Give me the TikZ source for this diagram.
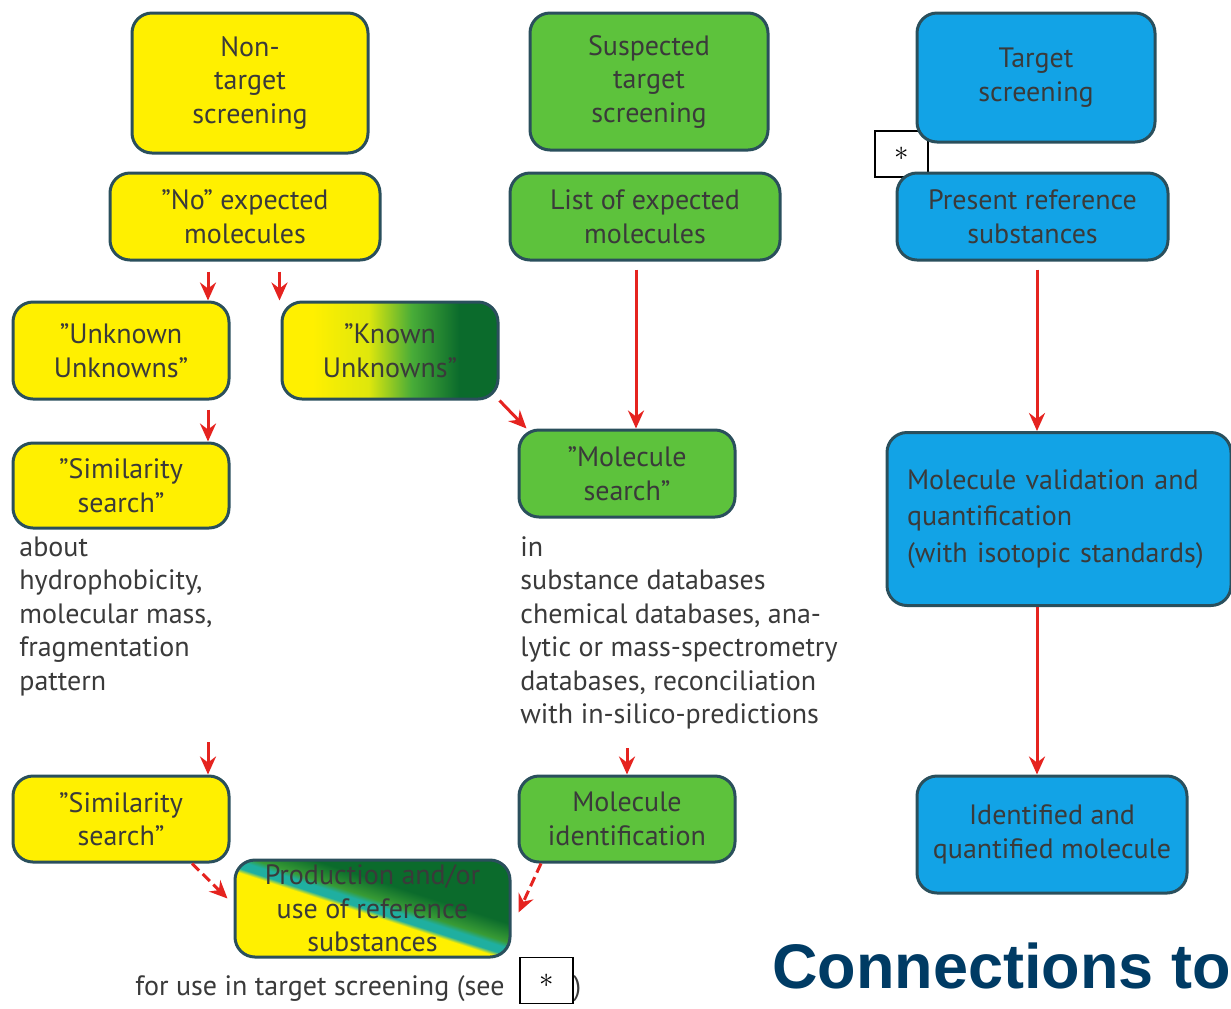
\documentclass[tikz,border=0pt]{standalone}
\usepackage{fontspec}
\setmainfont{PT Sans}
\newfontfamily\headfont{Liberation Sans}
\usetikzlibrary{arrows.meta}

\definecolor{ylw}{HTML}{FFF000}
\definecolor{grn}{HTML}{5DC23C}
\definecolor{blu}{HTML}{12A3E6}
\definecolor{dkgrn}{HTML}{0B6B2C}
\definecolor{tealband}{HTML}{1FAFA0}
\definecolor{edgecol}{HTML}{2A4F5C}
\definecolor{arrred}{HTML}{E5231F}
\definecolor{txt}{HTML}{3A3A3A}
\definecolor{headcol}{HTML}{003B64}

\pgfdeclarehorizontalshading{knownshade}{100bp}{color(0bp)=(ylw); color(32bp)=(ylw); color(45bp)=(ylw!80!grn); color(55bp)=(grn!75!dkgrn); color(66bp)=(dkgrn); color(100bp)=(dkgrn)}
\pgfdeclarehorizontalshading{prodshade}{100bp}{color(0bp)=(ylw); color(47.5bp)=(ylw); color(49bp)=(tealband); color(51.5bp)=(tealband); color(53.5bp)=(grn!55!dkgrn); color(60bp)=(dkgrn); color(100bp)=(dkgrn)}

\begin{document}
\begin{tikzpicture}[x=0.5pt, y=-0.5pt,
  font=\fontsize{14}{16.75}\selectfont,
  box/.style={draw=edgecol, line width=1.5pt, rounded corners=10pt, align=center, inner sep=0pt, text=txt},
  ybox/.style={box, fill=ylw},
  gbox/.style={box, fill=grn},
  bbox/.style={box, fill=blu},
  plain/.style={align=left, inner sep=0pt, text=txt},
  starbox/.style={draw=black, line width=0.8pt, fill=white, inner sep=0pt, minimum width=26.5pt, minimum height=23pt},
  arr/.style={draw=arrred, line width=1.5pt, -{Stealth[length=9pt, width=8pt, inset=3pt]}},
  dasharr/.style={arr, dash pattern=on 5pt off 2.5pt}]

  \useasboundingbox (0,0) rectangle (1231,1008);

  % star markers (drawn first, the boxes lie over them)
  \node[starbox] (star1) at (901.5,154) {$\ast$};

  % non-target column
  \node[ybox, minimum width=118pt, minimum height=70pt] (nontgt) at (250,83) {Non-\\target\\screening};
  \node[ybox, minimum width=135pt, minimum height=43.5pt] (noexp) at (245,216.5) {"No" expected\\molecules};
  \node[ybox, minimum width=108pt, minimum height=48.5pt] (unkunk) at (121,350.5) {"Unknown\\Unknowns"};
  \node[box, shading=knownshade, minimum width=108pt, minimum height=48.5pt] (knownunk) at (390,350.5) {"Known\\Unknowns"};
  \node[ybox, minimum width=108pt, minimum height=42.5pt] (simsearch) at (121,485.5) {"Similarity\\search"};
  \node[plain, anchor=north west] (about) at (19,536) {about\\hydrophobicity,\\molecular mass,\\fragmentation\\pattern};
  \node[ybox, minimum width=108pt, minimum height=43pt] (simsearchb) at (121,819) {"Similarity\\search"};

  % suspected target column
  \node[gbox, minimum width=119pt, minimum height=68.5pt] (suspect) at (649,81.5) {Suspected\\target\\screening};
  \node[gbox, minimum width=135pt, minimum height=43.5pt] (listexp) at (645,216.5) {List of expected\\molecules};
  \node[gbox, minimum width=108pt, minimum height=43.5pt] (molsearch) at (627,473.5) {"Molecule\\search"};
  \node[plain, anchor=north west] (indb) at (520,536) {in\\substance databases\\chemical databases, ana-\\lytic or mass-spectrometry\\databases, reconciliation\\with in-silico-predictions};
  \node[gbox, minimum width=108pt, minimum height=43pt] (molid) at (627,819) {Molecule\\identification};

  % reference substances
  \node[box, shading=prodshade, shading angle=72, minimum width=137.5pt, minimum height=48.5pt] (prod) at (372.5,908.5) {Production and/or\\use of reference\\substances};
  \node[plain, anchor=base west] (foruse) at (135,995) {for use in target screening (see};
  \node[plain, anchor=base west] (close) at (573,995) {)};
  \node[starbox] (star2) at (546.5,980.5) {$\ast$};

  % target column
  \node[bbox, minimum width=119pt, minimum height=64.5pt] (target) at (1036,77.5) {Target\\screening};
  \node[bbox, minimum width=135.5pt, minimum height=43.5pt] (present) at (1032.5,216.5) {Present reference\\substances};
  \node[bbox, minimum width=172pt, minimum height=86.5pt, align=left, text width=152pt,
        font=\fontsize{14}{18.25}\selectfont] (valid) at (1059,519) {Molecule validation and\\quantification\\(with isotopic standards)};
  \node[bbox, minimum width=135pt, minimum height=58.5pt] (ident) at (1052,834.5) {Identified and\\quantified molecule};

  \node[anchor=base west, inner sep=0pt, text=headcol, font=\headfont\bfseries\fontsize{31.5}{36}\selectfont] (conn) at (772,988) {Connections to};

  % arrows
  \draw[arr] ([xshift=-18.5pt,yshift=-5pt]noexp.south) coordinate (c1) -- (c1 |- unkunk.north);
  \draw[arr] ([xshift=17.25pt,yshift=-5pt]noexp.south) coordinate (c2) -- (c2 |- knownunk.north);
  \draw[arr] ([xshift=43.5pt,yshift=-4.5pt]unkunk.south) coordinate (c3) -- (c3 |- simsearch.north);
  \draw[arr] (knownunk.south east) -- ([xshift=4.5pt]molsearch.north west);
  \draw[arr] ([xshift=-4.5pt,yshift=-4pt]listexp.south) coordinate (c5) -- (c5 |- molsearch.north);
  \coordinate (c6) at (208,742);
  \draw[arr] (c6) -- (c6 |- simsearchb.north);
  \coordinate (c7) at (627,748);
  \draw[arr] (c7) -- (molid.north);
  \draw[arr] ([xshift=2.25pt,yshift=-4pt]present.south) coordinate (c8) -- (c8 |- valid.north);
  \draw[arr] ([xshift=-11pt]valid.south) coordinate (c9) -- (c9 |- ident.north);
  \draw[dasharr] ([xshift=35.5pt]simsearchb.south) -- ([xshift=-3pt,yshift=-20pt]prod.north west);
  \draw[dasharr] ([xshift=-43pt]molid.south) -- ([xshift=3.5pt,yshift=-2pt]prod.east);
\end{tikzpicture}
\end{document}
